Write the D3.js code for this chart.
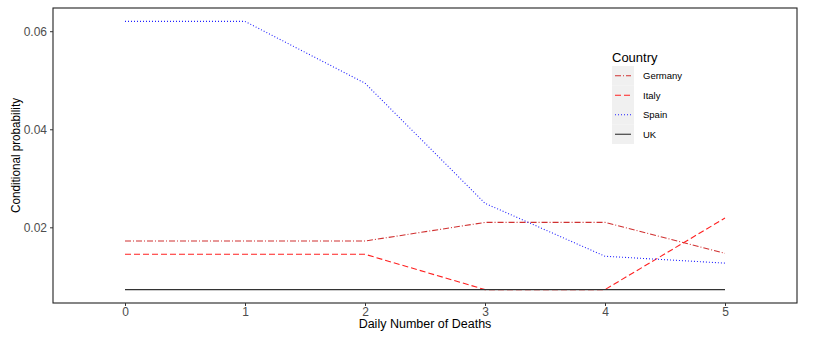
<!DOCTYPE html>
<html>
<head>
<meta charset="utf-8">
<script src="https://cdn.jsdelivr.net/npm/d3@7"></script>
<style>
  body { margin: 0; background: #fff; }
  text { font-family: "Liberation Sans", Arial, sans-serif; }
</style>
</head>
<body>
<svg id="chart"></svg>
<script>
// Data
const deaths = [0, 1, 2, 3, 4, 5];
const countries = ["Germany", "Italy", "Spain", "UK"];
const germany = [0.0172, 0.0172, 0.0172, 0.0210, 0.0210, 0.0147];
const italy   = [0.0145, 0.0145, 0.0145, 0.0073, 0.0073, 0.0219];
const spain   = [0.0620, 0.0620, 0.0494, 0.0249, 0.0141, 0.0127];
const uk      = [0.0073, 0.0073, 0.0073, 0.0073, 0.0073, 0.0073];
const yTicks = [0.02, 0.04, 0.06];

const series = [
  { name: "Germany", values: germany, color: "#d03030", dash: "6,2,1,2" },
  { name: "Italy",   values: italy,   color: "#ff2020", dash: "6,3" },
  { name: "Spain",   values: spain,   color: "#2020ff", dash: "1,2" },
  { name: "UK",      values: uk,      color: "#333333", dash: null }
];

const width = 829, height = 342;
const margin = { top: 8, right: 32, bottom: 39, left: 53 };

const svg = d3.select("#chart").attr("width", width).attr("height", height);

const x = d3.scaleLinear()
  .domain([-0.6, 5.6])
  .range([margin.left, width - margin.right]);

const allVals = [].concat(germany, italy, spain, uk);
const lo = d3.min(allVals), hi = d3.max(allVals), pad = (hi - lo) * 0.05;
const y = d3.scaleLinear()
  .domain([lo - pad, hi + pad])
  .range([height - margin.bottom, margin.top]);

// Lines
const line = d3.line()
  .x((d, i) => x(deaths[i]))
  .y(d => y(d));

svg.append("g")
  .selectAll("path")
  .data(series)
  .join("path")
  .attr("d", d => line(d.values))
  .attr("fill", "none")
  .attr("stroke", d => d.color)
  .attr("stroke-width", 1.1)
  .attr("stroke-dasharray", d => d.dash);

// Panel border
svg.append("rect")
  .attr("x", margin.left)
  .attr("y", margin.top)
  .attr("width", width - margin.right - margin.left)
  .attr("height", height - margin.bottom - margin.top)
  .attr("fill", "none")
  .attr("stroke", "#222")
  .attr("stroke-width", 1.1);

// Axes
const xAxis = svg.append("g")
  .attr("transform", `translate(0,${height - margin.bottom})`)
  .call(d3.axisBottom(x).tickValues(deaths).tickSize(3).tickPadding(1)
    .tickFormat(d3.format("d")));
const yAxis = svg.append("g")
  .attr("transform", `translate(${margin.left},0)`)
  .call(d3.axisLeft(y).tickValues(yTicks).tickSize(3).tickPadding(3)
    .tickFormat(d3.format(".2f")));

[xAxis, yAxis].forEach(a => {
  a.select(".domain").remove();
  a.selectAll(".tick line").attr("stroke", "#333");
  a.selectAll(".tick text")
    .attr("fill", "#4d4d4d")
    .style("font-size", "12px");
});

// Axis titles
svg.append("text")
  .attr("x", (margin.left + width - margin.right) / 2)
  .attr("y", 328)
  .attr("text-anchor", "middle")
  .style("font-size", "12.5px")
  .attr("fill", "#000")
  .text("Daily Number of Deaths");

svg.append("text")
  .attr("transform", `translate(20,${(margin.top + height - margin.bottom) / 2}) rotate(-90)`)
  .attr("text-anchor", "middle")
  .style("font-size", "12px")
  .attr("textLength", 115)
  .attr("lengthAdjust", "spacingAndGlyphs")
  .attr("fill", "#000")
  .text("Conditional probability");

// Legend
const legend = svg.append("g").attr("transform", "translate(612,0)");
legend.append("text")
  .attr("x", 0)
  .attr("y", 62)
  .style("font-size", "13px")
  .attr("fill", "#000")
  .text("Country");

const keys = legend.selectAll("g.key")
  .data(series)
  .join("g")
  .attr("class", "key")
  .attr("transform", (d, i) => `translate(0,${66 + i * 19.5})`);

keys.append("rect")
  .attr("width", 22)
  .attr("height", 19.5)
  .attr("fill", "#f0f0f0");

keys.append("line")
  .attr("x1", 3).attr("x2", 19)
  .attr("y1", 9.75).attr("y2", 9.75)
  .attr("stroke", d => d.color)
  .attr("stroke-width", 1.1)
  .attr("stroke-dasharray", d => d.dash);

keys.append("text")
  .attr("x", 31)
  .attr("y", 13)
  .style("font-size", "9.5px")
  .attr("fill", "#000")
  .text(d => d.name);
</script>
</body>
</html>
